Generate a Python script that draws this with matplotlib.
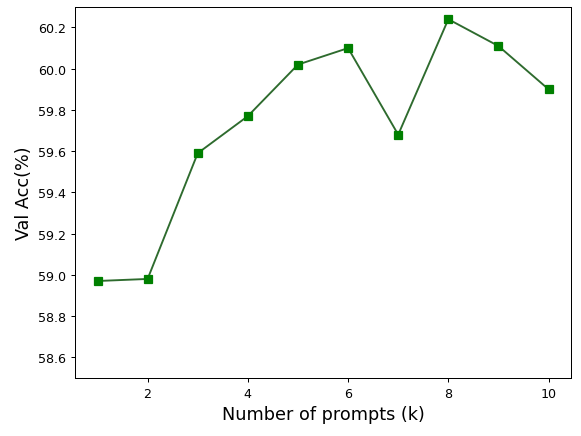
import matplotlib.pyplot as plt

k_values = [1, 2, 3, 4, 5, 6, 7, 8, 9, 10]
val_acc = [58.97, 58.98, 59.59, 59.77, 60.02, 60.10, 59.68, 60.24, 60.11, 59.90]

dpi = 581 / 6.4
fig, ax = plt.subplots(figsize=(6.4, 437 / dpi), dpi=dpi)
fig.subplots_adjust(left=0.129, right=0.983, top=0.982, bottom=0.133)

ax.plot(k_values, val_acc, color='#2e6b2e', linewidth=1.5, zorder=2)
ax.plot(k_values, val_acc, linestyle='none', marker='s', markersize=6,
        color='green', zorder=3)

ax.set_ylim(58.5, 60.3)
ax.set_yticks([58.6, 58.8, 59.0, 59.2, 59.4, 59.6, 59.8, 60.0, 60.2])
ax.set_xticks([2, 4, 6, 8, 10])
ax.set_xlabel("Number of prompts (k)", fontsize=14)
ax.set_ylabel("Val Acc(%)", fontsize=14)

plt.savefig("out.png", dpi=dpi)
